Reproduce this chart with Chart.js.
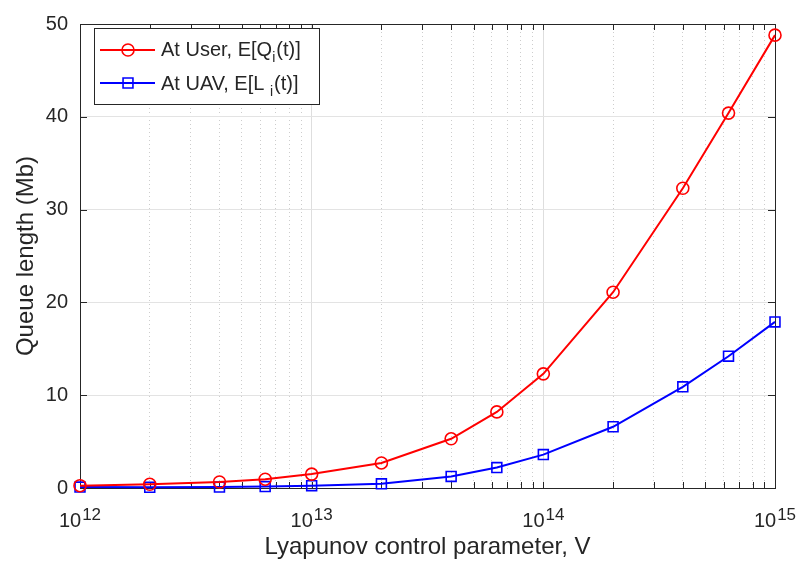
<!DOCTYPE html>
<html>
<head>
<meta charset="utf-8">
<script src="https://cdn.jsdelivr.net/npm/chart.js@4.4.0/dist/chart.umd.min.js"></script>
<style>
  html, body { margin: 0; padding: 0; background: #fff; }
  #wrap { width: 798px; height: 567px; }
</style>
</head>
<body>
<div id="wrap"><canvas id="chart"></canvas></div>
<script>
// values
const vParam = [1e12, 2e12, 4e12, 6.3e12, 1e13, 2e13, 4e13, 6.3e13, 1e14, 2e14, 4e14, 6.3e14, 1e15];
const userQueue = [0.25, 0.4, 0.65, 0.95, 1.5, 2.7, 5.3, 8.2, 12.3, 21.1, 32.3, 40.4, 48.8];
const uavQueue = [0.1, 0.08, 0.1, 0.15, 0.25, 0.45, 1.25, 2.2, 3.6, 6.6, 10.9, 14.2, 17.9];
const yTicks = [0, 10, 20, 30, 40, 50];
const decadeExps = [12, 13, 14, 15];
const minorMults = [2, 3, 4, 5, 6, 7, 8, 9];

const userLabel = ["At User, E[Q", "i", "(t)]"];
const uavLabel = ["At UAV, E[L ", "i", "(t)]"];
const xTitle = "Lyapunov control parameter, V";
const yTitle = "Queue length (Mb)";

const INK = "#262626";
const FONT = "'Liberation Sans', Arial, sans-serif";

// log ticks: every decade plus 2..9 in between
function logTickValues() {
  const vals = [];
  decadeExps.forEach((e, i) => {
    vals.push(Math.pow(10, e));
    if (i < decadeExps.length - 1) minorMults.forEach((m) => vals.push(m * Math.pow(10, e)));
  });
  return vals;
}
const isDecade = (v) => Math.abs(Math.log10(v) - Math.round(Math.log10(v))) < 1e-9;

const framePlugin = {
  id: "frame",
  beforeDatasetsDraw(chart) {
    const { ctx, chartArea: a, scales: { x, y } } = chart;
    ctx.save();
    ctx.strokeStyle = INK;
    ctx.lineWidth = 1;
    ctx.beginPath();
    for (const t of x.ticks) {
      const px = Math.round(x.getPixelForValue(t.value)) + 0.5;
      ctx.moveTo(px, a.bottom); ctx.lineTo(px, a.bottom - 6);
      ctx.moveTo(px, a.top); ctx.lineTo(px, a.top + 6);
    }
    for (const v of yTicks) {
      const py = Math.round(y.getPixelForValue(v)) + 0.5;
      ctx.moveTo(a.left, py); ctx.lineTo(a.left + 7, py);
      ctx.moveTo(a.right, py); ctx.lineTo(a.right - 7, py);
    }
    ctx.stroke();
    ctx.strokeRect(Math.round(a.left) + 0.5, Math.round(a.top) + 0.5, Math.round(a.width), Math.round(a.height));

    // 10^n labels under the x axis
    ctx.fillStyle = INK;
    ctx.textBaseline = "alphabetic";
    ctx.textAlign = "left";
    for (const e of decadeExps) {
      const px = x.getPixelForValue(Math.pow(10, e));
      ctx.font = "20px " + FONT;
      const wBase = ctx.measureText("10").width;
      ctx.font = "17px " + FONT;
      const wExp = ctx.measureText(String(e)).width;
      const start = px - (wBase + wExp + 1) / 2;
      ctx.font = "20px " + FONT;
      ctx.fillText("10", start, a.bottom + 39);
      ctx.font = "17px " + FONT;
      ctx.fillText(String(e), start + wBase + 1, a.bottom + 32);
    }
    ctx.restore();
  },
  afterDraw(chart) {
    const { ctx } = chart;
    const box = { x: 94, y: 28, w: 225, h: 76 };
    ctx.save();
    ctx.fillStyle = "#fff";
    ctx.fillRect(box.x, box.y, box.w, box.h);
    ctx.strokeStyle = INK;
    ctx.lineWidth = 1;
    ctx.strokeRect(box.x + 0.5, box.y + 0.5, box.w, box.h);

    const rows = [
      { ds: chart.data.datasets[0], parts: userLabel, cy: 50, base: 56 },
      { ds: chart.data.datasets[1], parts: uavLabel, cy: 83, base: 90 },
    ];
    for (const r of rows) {
      ctx.strokeStyle = r.ds.borderColor;
      ctx.lineWidth = r.ds.borderWidth;
      ctx.beginPath();
      ctx.moveTo(100, r.cy); ctx.lineTo(155, r.cy);
      ctx.stroke();
      ctx.lineWidth = r.ds.pointBorderWidth;
      ctx.fillStyle = "rgba(0,0,0,0)";
      Chart.helpers.drawPoint(ctx, {
        pointStyle: r.ds.pointStyle, radius: r.ds.pointRadius, borderWidth: r.ds.pointBorderWidth, rotation: 0,
      }, 128, r.cy);

      ctx.fillStyle = INK;
      ctx.textBaseline = "alphabetic";
      ctx.textAlign = "left";
      let tx = 161;
      ctx.font = "20px " + FONT;
      ctx.fillText(r.parts[0], tx, r.base);
      tx += ctx.measureText(r.parts[0]).width;
      ctx.font = "14px " + FONT;
      ctx.fillText(r.parts[1], tx, r.base + 6);
      tx += ctx.measureText(r.parts[1]).width + 1;
      ctx.font = "20px " + FONT;
      ctx.fillText(r.parts[2], tx, r.base);
    }
    ctx.restore();
  },
};

new Chart(document.getElementById("chart"), {
  type: "line",
  data: {
    labels: vParam,
    datasets: [
      {
        label: "At User",
        data: vParam.map((v, i) => ({ x: v, y: userQueue[i] })),
        borderColor: "#ff0000",
        backgroundColor: "transparent",
        borderWidth: 2,
        pointStyle: "circle",
        pointRadius: 6,
        pointBorderWidth: 1.6,
        pointBackgroundColor: "transparent",
        tension: 0,
        clip: false,
      },
      {
        label: "At UAV",
        data: vParam.map((v, i) => ({ x: v, y: uavQueue[i] })),
        borderColor: "#0000ff",
        backgroundColor: "transparent",
        borderWidth: 2,
        pointStyle: "rect",
        pointRadius: 7,
        pointBorderWidth: 1.6,
        pointBackgroundColor: "transparent",
        tension: 0,
        clip: false,
      },
    ],
  },
  options: {
    responsive: true,
    maintainAspectRatio: false,
    animation: false,
    layout: { padding: { top: 14, right: 23, left: 0, bottom: 0 } },
    plugins: { legend: { display: false }, tooltip: { enabled: false } },
    scales: {
      x: {
        type: "logarithmic",
        min: 1e12,
        max: 1e15,
        afterBuildTicks: (scale) => {
          scale.ticks = logTickValues().map((v) => ({ value: v, major: isDecade(v) }));
        },
        afterFit: (scale) => { scale.height = 79; },
        ticks: { display: false, autoSkip: false },
        grid: {
          drawTicks: false,
          color: (c) => (c.tick && isDecade(c.tick.value) ? "#dedede" : "#cdcdcd"),
          lineWidth: 1,
        },
        border: {
          display: false,
          dash: (c) => (c.tick && !isDecade(c.tick.value) ? [1, 3] : []),
        },
        title: {
          display: true,
          text: xTitle,
          color: INK,
          font: { family: FONT, size: 24 },
          padding: { top: 0, bottom: 5 },
        },
      },
      y: {
        min: 0,
        max: 50,
        afterFit: (scale) => { scale.width = 80; },
        ticks: {
          stepSize: 10,
          color: INK,
          font: { family: FONT, size: 20 },
          padding: 12,
        },
        grid: { drawTicks: false, color: "#e3e3e3", lineWidth: 1 },
        border: { display: false },
        title: {
          display: true,
          text: yTitle,
          color: INK,
          font: { family: FONT, size: 24 },
          padding: { top: 12, bottom: 0 },
        },
      },
    },
  },
  plugins: [framePlugin],
});
</script>
</body>
</html>
